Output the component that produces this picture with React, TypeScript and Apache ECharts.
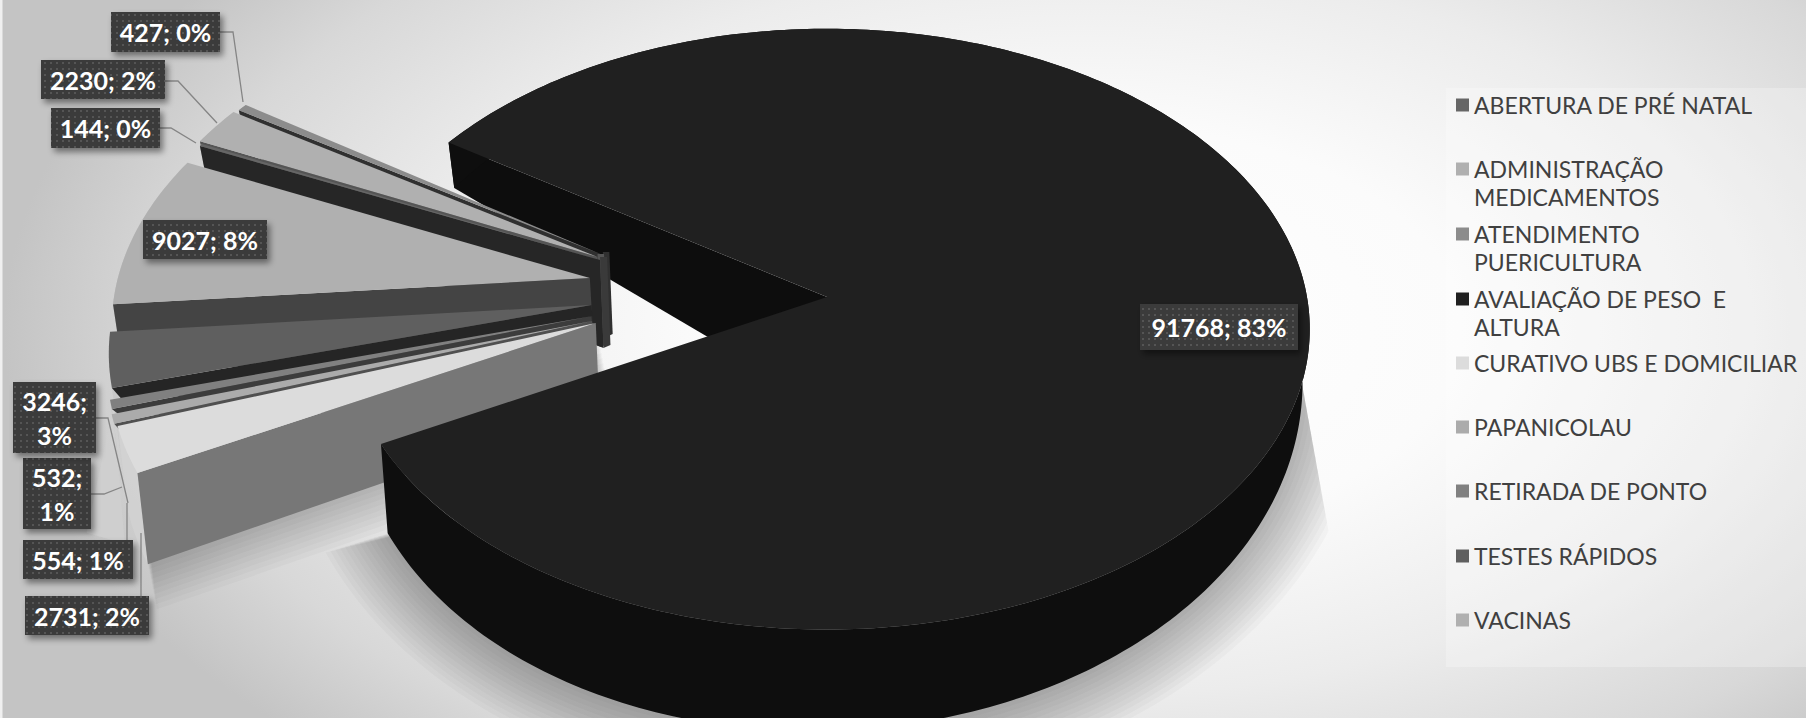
import React, { useEffect, useRef } from "react";
import * as echarts from "echarts";

const categories = [
  "ABERTURA DE PRÉ NATAL",
  "ADMINISTRAÇÃO MEDICAMENTOS",
  "ATENDIMENTO PUERICULTURA",
  "AVALIAÇÃO DE PESO  E ALTURA",
  "CURATIVO UBS E DOMICILIAR",
  "PAPANICOLAU",
  "RETIRADA DE PONTO",
  "TESTES RÁPIDOS",
  "VACINAS",
];
const values = [144, 2230, 427, 91768, 2731, 554, 532, 3246, 9027];
const percents = [0, 2, 0, 83, 2, 1, 1, 3, 8];
const legendFirstLines = ["ABERTURA DE PRÉ NATAL", "ADMINISTRAÇÃO", "ATENDIMENTO", "AVALIAÇÃO DE PESO  E", "CURATIVO UBS E DOMICILIAR", "PAPANICOLAU", "RETIRADA DE PONTO", "TESTES RÁPIDOS", "VACINAS"];
const legendSecondLines = ["", "MEDICAMENTOS", "PUERICULTURA", "ALTURA", "", "", "", "", ""];
const legendRows = [105, 169, 234, 299, 363, 427, 491, 556, 620];

const topColors = ["#666666", "#b0b0b0", "#8c8c8c", "#202020", "#dcdcdc", "#ababab", "#808080", "#5f5f5f", "#b0b0b0"];
const wallColors = ["#262626", "#555555", "#303030", "#0d0d0d", "#777777", "#505050", "#3c3c3c", "#252525", "#444444"];
const rimColors = ["#999999", "#bbbbbb", "#999999", "#0e0e0e", "#d2d2d2", "#cfcfcf", "#c8c8c8", "#c6c6c6", "#c0c0c0"];
// where each slice's tip has been pulled to, in pie radii
const explodeX = [-0.484, -0.49, -0.479, 0, -0.482, -0.49, -0.492, -0.494, -0.5025];
const explodeY = [-0.126, -0.137, -0.144, 0, 0.087, 0.08, 0.064, 0.027, -0.064];
const tipDepths = [88, 90, 82, 110, 85, 60, 60, 60, 60];
const tipSlabs = [7, 6.5, 6.5, 0, 0, 0, 0, 0, 0];
const rimDepthScale = [0.93, 0.93, 0.93, 1, 0.93, 1.3, 0.93, 0.93, 0.93];
const wallRimDepthScale = [1, 1, 1, 1, 1, 0.1, 0.1, 0.15, 1];
const rimLeanEnd = [0.985, 0.985, 0.985, 0.985, 0.985, 1.035, 0.985, 0.985, 0.985];
const drawOrder = [3, 2, 1, 0, 8, 7, 6, 5, 4];

const labelBoxes: number[][] = [
  [51, 108, 160, 148],
  [41, 60, 165, 99],
  [111, 12, 220, 52],
  [1140, 304, 1298, 350],
  [25, 596, 149, 635],
  [23, 540, 133, 579],
  [23, 458, 91, 529],
  [13, 382, 96, 453],
  [143, 220, 267, 259],
];
const labelWraps = [false, false, false, false, false, false, true, true, false];
const leaders: number[][][] = [
  [[160, 128], [171, 128], [196, 143]],
  [[165, 81], [178, 81], [217, 123]],
  [[220, 32], [233, 32], [243, 102]],
  [],
  [[141, 596], [141, 533]],
  [[127, 540], [127, 503]],
  [[91, 494], [104, 494], [122, 487]],
  [[96, 418], [108, 418], [128, 503]],
  [],
];

const CX = 827, CY = 297, RX = 480, RY = 297, K = 0.107;
const SMALL_X = 0.99;
const START = 204.29;
const LABEL_FONT = "bold 25px Lato";
const LEGEND_FONT = "Lato";

const total = values.reduce((a, b) => a + b, 0);
const rad = (d: number) => (d * Math.PI) / 180;

function project(X: number, Y: number): number[] {
  const s = 1 / (1 - K * Y);
  return [CX + RX * X * s, CY + RY * Y * s];
}
function rimDepth(Y: number, x: number) {
  return 59.8 + 41.4 * Y - 0.022 * (x - CX);
}
function down(p: number[], d: number, lean = 0.985): number[] {
  return [CX + (p[0] - CX) * lean, p[1] + d];
}

function dotPattern() {
  const c = document.createElement("canvas");
  c.width = 6;
  c.height = 6;
  const g = c.getContext("2d")!;
  g.fillStyle = "#3b3b3b";
  g.fillRect(0, 0, 6, 6);
  g.fillStyle = "#555555";
  g.fillRect(2, 2, 2, 2);
  return { image: c, repeat: "repeat" };
}

function makeRender(i: number, pattern: any) {
  return (_params: any, api: any) => {
    const value = api.value(0);
    let before = 0;
    for (let j = 0; j < i; j++) before += values[j];
    const a0 = START + (before / total) * 360;
    const a1 = a0 + (value / total) * 360;
    const big = i === 3;
    const xScale = big ? 1 : SMALL_X;
    const ex = explodeX[i], ey = explodeY[i];
    const steps = Math.max(2, Math.ceil(a1 - a0));
    const rim: number[][] = [];
    const rimBottom: number[][] = [];
    let wallEnd: number[] = [];
    for (let s = 0; s <= steps; s++) {
      const a = rad(a0 + ((a1 - a0) * s) / steps);
      const wy = ey + Math.sin(a);
      const p = project(xScale * (ex + Math.cos(a)), wy);
      rim.push(p);
      const lean = 0.985 + ((rimLeanEnd[i] - 0.985) * s) / steps;
      const d = rimDepth(wy, p[0]);
      rimBottom.push(down(p, d * rimDepthScale[i], lean));
      if (s === 0) wallEnd = down(p, d * rimDepthScale[i] * wallRimDepthScale[i]);
    }
    const tip = project(xScale * ex, ey);
    const tipBottom = down(tip, tipDepths[i]);
    const base = drawOrder.indexOf(i) * 10 + 20;
    const children: any[] = [];

    if (big) {
      // soft cast shadow as stacked translucent bands, cut by a straight edge on the right
      const front = rimBottom.filter((_, s) => {
        const a = rad(a0 + ((a1 - a0) * s) / steps);
        return Math.sin(a) > -0.05;
      });
      for (let t = 5; t <= 65; t += 5) {
        const pts = front.map((p) => {
          const dx = p[0] - CX, dy = p[1] - (CY + 100);
          const len = Math.hypot(dx, dy);
          const y = p[1] + (dy / len) * t;
          const x = p[0] + (dx / len) * t;
          return [Math.min(x, 1305 + (y - 400) * 0.18), y];
        });
        children.push({
          type: "polygon", z2: 1, silent: true,
          shape: { points: pts },
          style: { fill: "rgba(0,0,0,0.024)" },
        });
      }
      // the radial wall that looks into the cut-out, kept behind the small slices
      children.push({
        type: "polygon", z2: 5, silent: true,
        shape: { points: [tip, rim[0], rimBottom[0], tipBottom] },
        style: { fill: wallColors[i] },
      });
      children.push({
        type: "polygon", z2: 200, silent: true,
        shape: { points: rim.concat(rimBottom.slice().reverse()) },
        style: { fill: rimColors[i] },
      });
      children.push({
        type: "polygon", z2: 201, silent: true,
        shape: { points: [tip].concat(rim) },
        style: { fill: topColors[i] },
      });
    } else {
      if (i === 4) {
        const quad = [tip, rim[0], rimBottom[0], tipBottom];
        for (let t = 5; t <= 45; t += 5) {
          children.push({
            type: "polygon", z2: 2, silent: true,
            shape: { points: quad.map((p) => [p[0] + t * 0.2, p[1] + t]) },
            style: { fill: "rgba(0,0,0,0.025)" },
          });
        }
      }
      // the lower radial edge is the first rim point for these slices
      children.push({
        type: "polygon", z2: base, silent: true,
        shape: { points: rim.concat(rimBottom.slice().reverse()) },
        style: { fill: rimColors[i], opacity: 0.9 },
      });
      children.push({
        type: "polygon", z2: base + 1, silent: true,
        shape: { points: [tip, rim[0], wallEnd, tipBottom] },
        style: { fill: wallColors[i] },
      });
      if (tipSlabs[i] > 0) {
        children.push({
          type: "polygon", z2: base + 1, silent: true,
          shape: {
            points: [
              [tip[0], tip[1] - 3],
              [tip[0] + tipSlabs[i], tip[1] - 3],
              [tipBottom[0] + tipSlabs[i], tipBottom[1] - 3],
              [tipBottom[0], tipBottom[1]],
            ],
          },
          style: { fill: wallColors[i] === "#262626" ? "#3a3a3a" : wallColors[i] },
        });
      }
      children.push({
        type: "polygon", z2: base + 2, silent: true,
        shape: { points: [tip].concat(rim) },
        style: { fill: topColors[i] },
      });
    }

    const lead = leaders[i];
    if (lead.length) {
      children.push({
        type: "polyline", z2: 300, silent: true,
        shape: { points: lead },
        style: { fill: "none", stroke: "#858585", lineWidth: 1.3 },
      });
    }
    const b = labelBoxes[i];
    children.push({
      type: "rect", z2: 301, silent: true,
      shape: { x: b[0], y: b[1], width: b[2] - b[0], height: b[3] - b[1] },
      style: { fill: pattern, shadowBlur: 6, shadowOffsetX: 3, shadowOffsetY: 4, shadowColor: "rgba(0,0,0,0.45)" },
    });
    children.push({
      type: "text", z2: 302, silent: true,
      x: (b[0] + b[2]) / 2,
      y: (b[1] + b[3]) / 2,
      style: {
        text: `${value};${labelWraps[i] ? "\n" : " "}${percents[i]}%`,
        font: LABEL_FONT,
        fill: "#ffffff",
        align: "center",
        verticalAlign: "middle",
        lineHeight: 34,
      },
    });
    return { type: "group", children };
  };
}

export default function App() {
  const ref = useRef<HTMLDivElement>(null);
  useEffect(() => {
    document.body.style.margin = "0";
    const chart = echarts.init(ref.current!, undefined, { renderer: "svg" });
    const pattern = dotPattern();
    const option: any = {
      animation: false,
      legend: categories.map((name, i) => ({
        data: [name],
        left: 1456,
        top: legendRows[i] - 13,
        padding: 0,
        itemWidth: 13,
        itemHeight: 13,
        selectedMode: false,
        icon: "rect",
        formatter: () => legendFirstLines[i],
        textStyle: { fontFamily: LEGEND_FONT, fontSize: 23, color: "#404040", lineHeight: 26 },
      })),
      graphic: [
        {
          type: "rect", z: -1, silent: true,
          shape: { x: 1446, y: 88, width: 360, height: 579 },
          style: { fill: "rgba(255,255,255,0.26)" },
        },
        {
          type: "rect", z: -1, silent: true,
          shape: { x: 0, y: 0, width: 2.5, height: 718 },
          style: { fill: "#f0f0f0" },
        },
        ...legendSecondLines
          .map((text, i) => ({ text, i }))
          .filter((d) => d.text)
          .map((d) => ({
            type: "text", silent: true,
            x: 1474,
            y: legendRows[d.i] + 28,
            style: { text: d.text, font: `23px ${LEGEND_FONT}`, fill: "#404040", verticalAlign: "middle" },
          })),
      ],
      series: categories.map((name, i) => ({
        type: "custom",
        name,
        coordinateSystem: "none",
        silent: true,
        itemStyle: { color: topColors[i] },
        data: [[values[i]]],
        renderItem: makeRender(i, pattern),
      })),
    };
    chart.setOption(option);
    return () => chart.dispose();
  }, []);
  return (
    <div
      ref={ref}
      style={{
        width: 1806,
        height: 718,
        overflow: "hidden",
        background:
          "radial-gradient(ellipse 1080px 590px at 60% 46%, #ffffff 0%, #fbfbfb 35%, #ececec 62%, #d8d8d8 85%, #c4c4c4 100%)",
      }}
    />
  );
}
